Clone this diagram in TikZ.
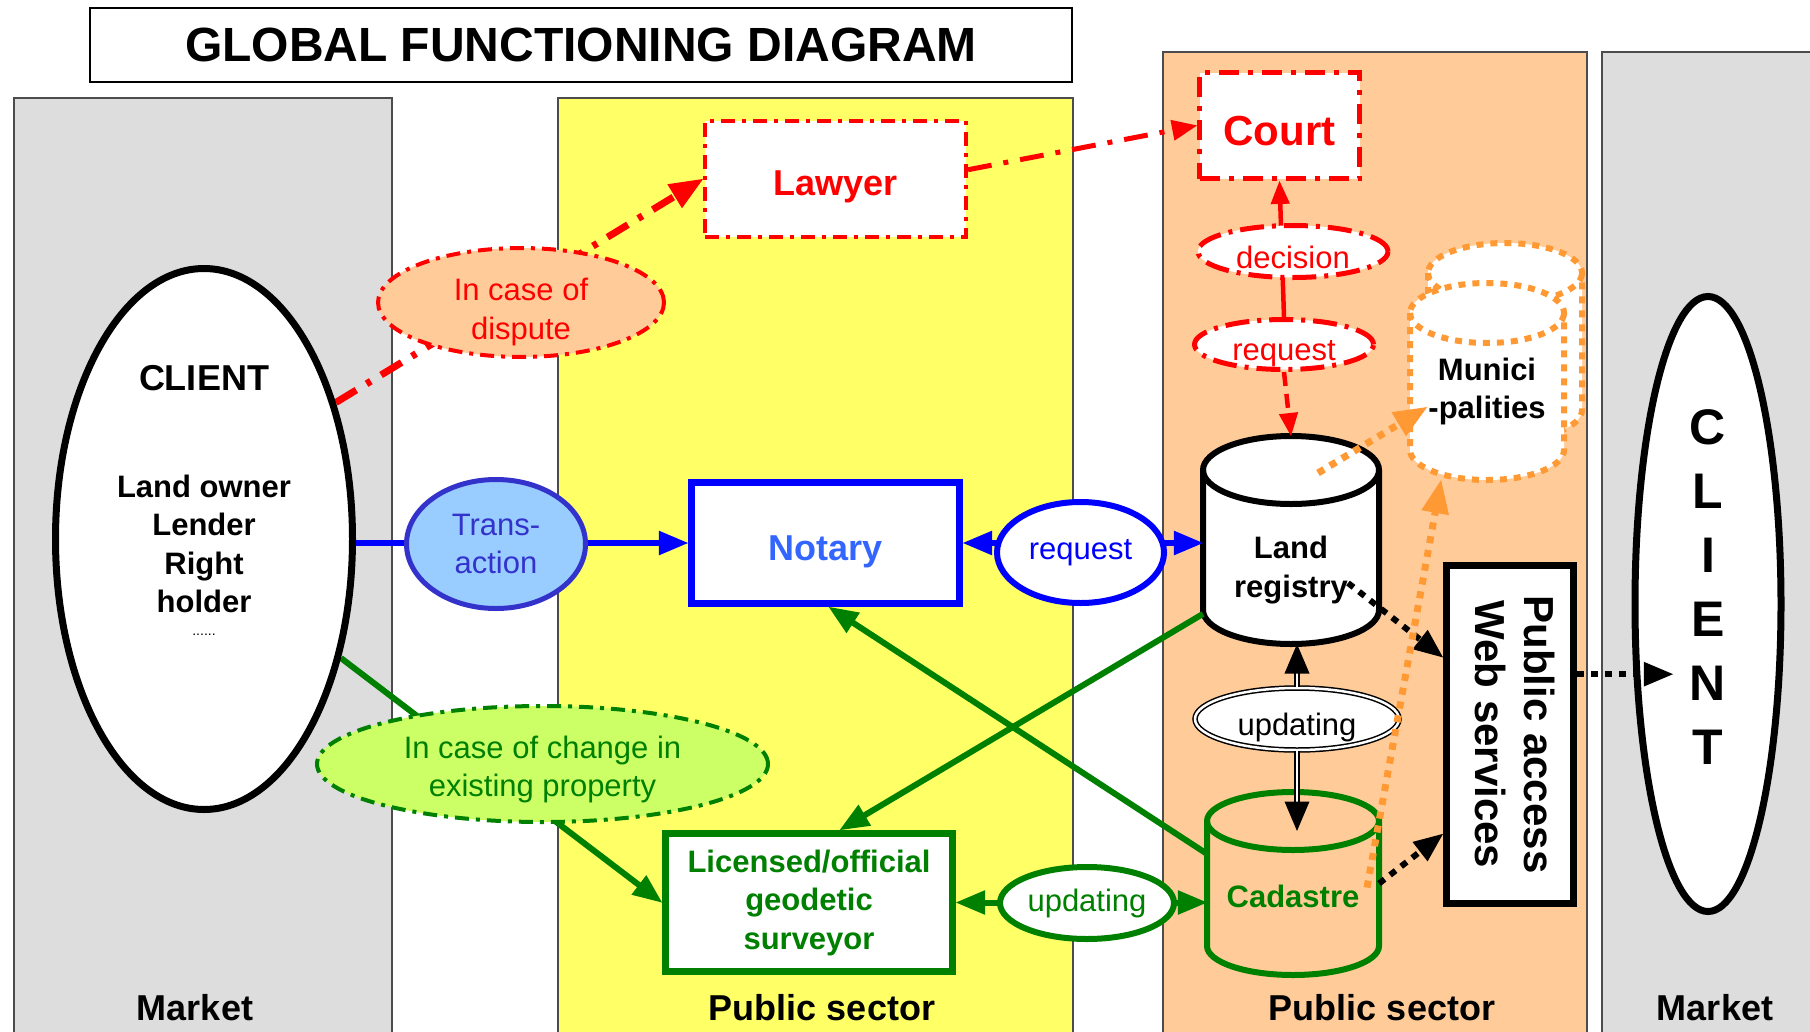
\documentclass[tikz,border=0pt]{standalone}
\usepackage{fontspec}
\setmainfont{Liberation Sans}
\usetikzlibrary{arrows,shapes.geometric,calc}

\definecolor{bandgray}{HTML}{DDDDDD}
\definecolor{bandyellow}{HTML}{FFFF66}
\definecolor{bandorange}{HTML}{FFCC99}
\definecolor{dkgreen}{HTML}{008000}
\definecolor{ltgreen}{HTML}{CCFF66}
\definecolor{ltblue}{HTML}{99CCFF}
\definecolor{midblue}{HTML}{3333CC}
\definecolor{notblue}{HTML}{3366FF}
\definecolor{dotorange}{HTML}{FF9933}

\newcommand{\txtbig}{\fontsize{36}{42}\selectfont\bfseries}
\newcommand{\txtmid}{\fontsize{31}{38.5}\selectfont}
\newcommand{\txthuge}{\fontsize{42}{49}\selectfont\bfseries}
% text set lower inside its node
\newcommand{\lowr}[2]{\raisebox{-#1}[\height][\depth]{#2}}
% cylinder drawn round an empty node: node, x radius, y radius, style
\newcommand{\drawcyl}[4]{%
  \draw [#4] ($(#1.north west)+(0,#3)$) -- ($(#1.south west)+(0,-#3)$)
    arc [start angle=180, end angle=360, x radius=#2pt, y radius=#3pt]
    -- ($(#1.north east)+(0,#3)$)
    arc [start angle=0, end angle=180, x radius=#2pt, y radius=#3pt] -- cycle;
  \draw [#4, fill=none] ($(#1.north west)+(0,#3)$)
    arc [start angle=180, end angle=360, x radius=#2pt, y radius=#3pt];}

\pgfdeclarelayer{bg}
\pgfsetlayers{bg,main}

\tikzset{
  band/.style={draw=black!70, line width=1.5pt},
  box/.style={draw, rectangle, fill=white, inner sep=0pt},
  bubble/.style={draw, ellipse, inner sep=0pt},
  reddash/.style={draw=red, dash pattern=on 14pt off 7pt on 4pt off 7pt},
  dbarea/.style={rectangle, inner sep=0pt, outer sep=0pt},
  dotline/.style={dash pattern=on 7pt off 7pt},
}

\begin{document}
\begin{tikzpicture}[>=triangle 45,x=1pt,y=-1pt]
\useasboundingbox (0,0) rectangle (1810,1031);
% the four bands
\begin{pgfonlayer}{bg}
\draw [band, fill=bandgray] (14,98) rectangle (392,1040);
\draw [band, fill=bandyellow] (558,98) rectangle (1073,1040);
\draw [band, fill=bandorange] (1163,52) rectangle (1587,1040);
\draw [band, fill=bandgray] (1602,52) rectangle (1820,1040);
\end{pgfonlayer}
\node [box, line width=2pt, minimum width=982pt, minimum height=74pt, font=\fontsize{48}{56}\selectfont\bfseries] (title) at (581,45) {GLOBAL FUNCTIONING DIAGRAM};
\node [font=\txtbig] (mkt1) at (195,1008) {Market};
\node [font=\txtbig] (pub1) at (822,1008) {Public sector};
\node [font=\txtbig] (pub2) at (1382,1008) {Public sector};
\node [font=\txtbig] (mkt2) at (1715,1008) {Market};
% clients
\node [bubble, line width=7pt, fill=white, minimum width=297pt, minimum height=541pt,
  label={[font=\txtbig, yshift=161pt]center:CLIENT},
  label={[font=\txtmid\bfseries, align=center, yshift=-5pt]center:{Land owner\\Lender\\Right\\holder}},
  label={[font=\fontsize{14}{16}\selectfont, yshift=-96pt]center:......}] (client) at (204,539) {};
\node [bubble, line width=7pt, fill=white, minimum width=146pt, minimum height=615pt,
  label={[font=\fontsize{50}{64}\selectfont\bfseries, align=center, yshift=17pt]center:{C\\L\\I\\E\\N\\T}}] (clientr) at (1708,604) {};
% dispute
\node [bubble, reddash, line width=4pt, fill=bandorange, minimum width=286pt, minimum height=105pt, font=\txtmid, text=red] (dispute) at (521,302.5) {\lowr{10pt}{\begin{tabular}{@{}c@{}}In case of\\dispute\end{tabular}}};
\node [box, reddash, line width=4pt, minimum width=261pt, minimum height=116pt, font=\txtbig, text=red] (lawyer) at (835.5,179) {\lowr{8pt}{Lawyer}};
\node [box, draw=red, dash pattern=on 20pt off 9pt on 5pt off 9pt, line width=5pt, minimum width=160pt, minimum height=106pt, font=\txthuge, text=red] (court) at (1279.5,125.5) {\lowr{6pt}{Court}};
\node [bubble, draw=red, dash pattern=on 24pt off 8pt on 4pt off 8pt, line width=5pt, fill=white, minimum width=190pt, minimum height=52pt, font=\txtmid, text=red] (decision) at (1293,251.5) {\lowr{6pt}{decision}};
\node [bubble, draw=red, dash pattern=on 24pt off 8pt on 4pt off 8pt, line width=5pt, fill=white, minimum width=179pt, minimum height=50pt, font=\txtmid, text=red] (req) at (1284,344.5) {\lowr{9pt}{request}};
% transaction
\node [bubble, draw=midblue, line width=5pt, fill=ltblue, minimum width=179pt, minimum height=129pt, font=\txtmid, text=midblue, align=center] (trans) at (496,544) {Trans-\\action};
\node [box, draw=blue, line width=7pt, minimum width=268pt, minimum height=121pt, font=\txtbig, text=notblue] (notary) at (825.5,543) {\lowr{9pt}{Notary}};
\node [bubble, draw=blue, line width=6pt, fill=white, minimum width=167pt, minimum height=101pt, font=\txtmid, text=blue] (breq) at (1080.5,552.5) {request};
% registers
\node [dbarea, minimum width=176pt, minimum height=208pt,
  label={[font=\txtmid\bfseries, align=center, yshift=-30pt]center:{Land\\registry}}] (landreg) at (1291,540) {};
\node [dbarea, minimum width=172pt, minimum height=183pt,
  label={[font=\txtmid\bfseries, text=dkgreen, yshift=-13pt]center:Cadastre}] (cadastre) at (1293,883.5) {};
\node [bubble, line width=1.5pt, double, double distance=2.5pt, fill=white, minimum width=204pt, minimum height=62pt, font=\txtmid] (updb) at (1297,719) {\lowr{8pt}{updating}};
\node [dbarea, minimum width=154pt, minimum height=197pt] (muniback) at (1505,341.5) {};
\node [dbarea, minimum width=154pt, minimum height=197pt,
  label={[font=\txtmid\bfseries, align=center, yshift=-10pt]center:{Munici\\-palities}}] (munifront) at (1487,381.5) {};
\node [box, line width=7pt, minimum width=127pt, minimum height=338pt, font=\txthuge] (publ) at (1510,734.5) {\rotatebox{-90}{\begin{tabular}{@{}c@{}}Public access\\Web services\end{tabular}}};
% surveying
\node [bubble, draw=dkgreen, dash pattern=on 14pt off 7pt on 4pt off 7pt, line width=4pt, fill=ltgreen, minimum width=451pt, minimum height=116pt, font=\txtmid, text=dkgreen] (change) at (542.5,764) {\lowr{6pt}{\begin{tabular}{@{}c@{}}In case of change in\\existing property\end{tabular}}};
\node [box, draw=dkgreen, line width=7pt, minimum width=287pt, minimum height=138pt, font=\txtmid\bfseries, text=dkgreen, align=center] (surveyor) at (809,902.5) {Licensed/official\\geodetic\\surveyor};
\node [bubble, draw=dkgreen, line width=6pt, fill=white, minimum width=174pt, minimum height=72pt, font=\txtmid, text=dkgreen] (gupd) at (1087,903) {updating};
% cylinders and connectors behind the nodes
\begin{pgfonlayer}{bg}
\drawcyl{landreg}{88}{34}{line width=6pt, fill=white}
\drawcyl{cadastre}{86}{29}{draw=dkgreen, line width=6pt, fill=bandorange}
\drawcyl{muniback}{77}{30}{draw=dotorange, dash pattern=on 7pt off 7pt, line width=6pt, fill=white}
\drawcyl{munifront}{77}{30}{draw=dotorange, dash pattern=on 7pt off 7pt, line width=6pt, fill=white}
\draw [->, red, line width=7pt, dash pattern=on 24pt off 12pt on 5pt off 12pt] (client.46) -- (lawyer.west);
\draw [->, red, line width=5pt, dash pattern=on 24pt off 12pt on 5pt off 12pt] (lawyer.4) -- (court.west);
\draw [->, red, line width=4.5pt] (req.north) -- (court.south);
\draw [->, red, line width=4.5pt, dash pattern=on 14pt off 8pt] (req.south) -- (landreg.north);
\draw [->, blue, line width=6pt] (notary.west -| client.east) -- (notary.west);
\draw [<->, blue, line width=6pt] (notary.east) -- (notary.east -| landreg.west);
\draw [->, dkgreen, line width=6pt] (client.-41) -- (surveyor.west);
\draw [->, dkgreen, line width=6pt] (landreg.220) -- (surveyor.67);
\draw [->, dkgreen, line width=6pt] (cadastre.161) -- (notary.-87);
\draw [<->, dkgreen, line width=6pt] (surveyor.east) -- (surveyor.east -| cadastre.west);
\end{pgfonlayer}
% connectors on top
\draw [->, line width=1.8pt, double, double distance=2.5pt] (updb.north) -- (updb.north |- landreg.south);
\draw [->, line width=1.8pt, double, double distance=2.5pt] (updb.south) -- ($(cadastre.north)+(4,39)$);
\draw [->, line width=6pt, dotline] ($(landreg.center)+(57,43)$) -- (publ.131);
\draw [->, line width=6pt, dotline] (cadastre.east) -- (publ.236);
\draw [->, line width=6pt, dotline, shorten >=35pt] (publ.42) -- (publ.42 -| clientr.center);
\draw [->, dotorange, line width=7pt, dotline, shorten >=-20pt] ($(landreg.center)+(27,-67)$) -- (munifront.205);
\draw [->, dotorange, line width=7pt, dotline] ($(cadastre.east)+(-12,4)$) -- (munifront.245);
\end{tikzpicture}
\end{document}
